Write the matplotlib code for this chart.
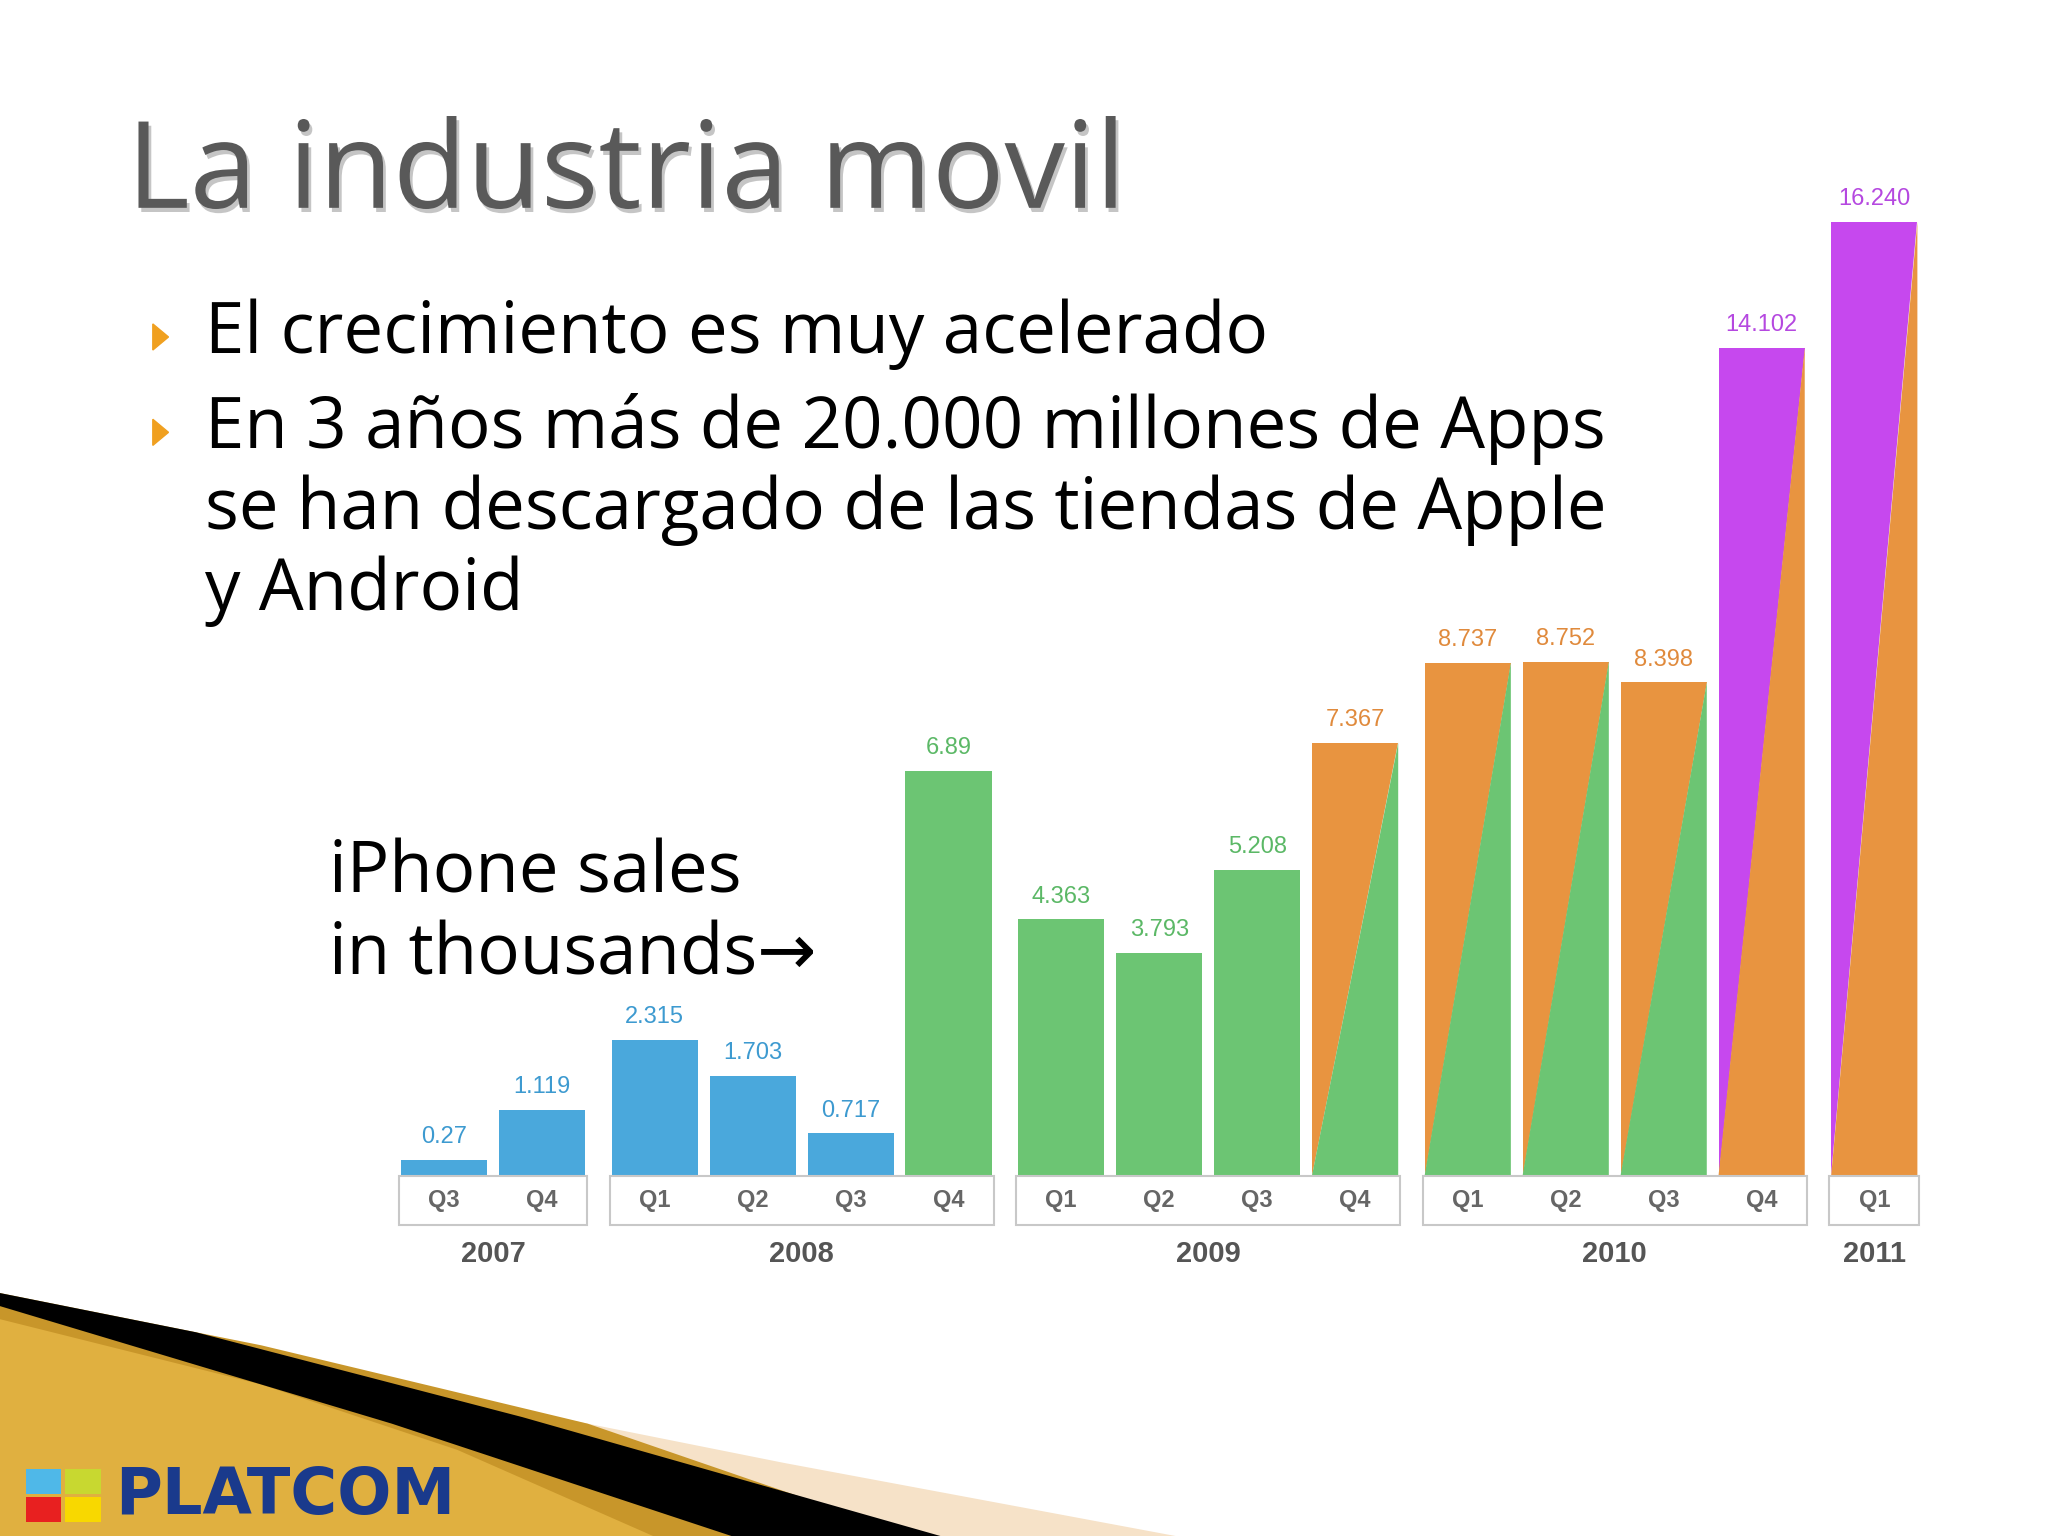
import matplotlib
matplotlib.use("Agg")
import matplotlib.pyplot as plt
from matplotlib.patches import Polygon, Rectangle
import matplotlib.patheffects as pe

# data
years = ["2007", "2008", "2009", "2010", "2011"]
quarters = [["Q3", "Q4"], ["Q1", "Q2", "Q3", "Q4"], ["Q1", "Q2", "Q3", "Q4"],
            ["Q1", "Q2", "Q3", "Q4"], ["Q1"]]
sales = [0.27, 1.119, 2.315, 1.703, 0.717, 6.89, 4.363, 3.793, 5.208,
         7.367, 8.737, 8.752, 8.398, 14.102, 16.240]
value_labels = ["0.27", "1.119", "2.315", "1.703", "0.717", "6.89", "4.363",
                "3.793", "5.208", "7.367", "8.737", "8.752", "8.398",
                "14.102", "16.240"]
# top-left colour / bottom-right colour of each bar
kinds = ["b", "b", "b", "b", "b", "g", "g", "g", "g",
         "og", "og", "og", "og", "po", "po"]

BLUE, GREEN, ORANGE, PURPLE = "#4aa8dc", "#6cc573", "#e89440", "#c648ee"
cmap = {"b": (BLUE, BLUE), "g": (GREEN, GREEN), "og": (ORANGE, GREEN), "po": (PURPLE, ORANGE)}
label_col = {"b": "#3d9ad0", "g": "#5bb866", "og": "#e08a3c", "po": "#b548e0"}

W, H = 1568, 1176
fx = lambda x: x / W
fy = lambda y: 1 - y / H

fig = plt.figure(figsize=(20.48, 15.36), dpi=100)
fig.patch.set_facecolor("white")
plt.rcParams["font.family"] = ["Liberation Sans", "DejaVu Sans"]

# bar positions (group gap)
pos = []
x = 0.0
for g, qs in enumerate(quarters):
    for q in qs:
        pos.append(x)
        x += 1
    x += 0.15
x0, x1 = 300, 1475
half = 40 / 75
ax = fig.add_axes([fx(x0), fy(900), fx(x1) - fx(x0), fy(150) - fy(900)])
ax.set_xlim(pos[0] - half, pos[-1] + half)
ax.set_ylim(0, 750 / 44.95)
ax.axis("off")

bw = 0.88
for p, v, k, lab in zip(pos, sales, kinds, value_labels):
    c1, c2 = cmap[k]
    l, r = p - bw / 2, p + bw / 2
    if c1 == c2:
        ax.add_patch(Rectangle((l, 0), bw, v, color=c1, lw=0))
    else:
        ax.add_patch(Polygon([(l, 0), (l, v), (r, v)], closed=True, color=c1, lw=0))
        ax.add_patch(Polygon([(l, 0), (r, v), (r, 0)], closed=True, color=c2, lw=0))
    ax.text(p, v + 0.2, lab, ha="center", va="bottom", fontsize=17, color=label_col[k])

# category boxes
box_h = 38 / 44.95
i = 0
for g, qs in enumerate(quarters):
    gp = pos[i:i + len(qs)]
    l, r = gp[0] - bw / 2 - 0.02, gp[-1] + bw / 2 + 0.02
    ax.add_patch(Rectangle((l, -box_h), r - l, box_h, facecolor="white",
                           edgecolor="#c8c8c8", lw=1.5, clip_on=False))
    for p, q in zip(gp, qs):
        ax.text(p, -box_h / 2, q, ha="center", va="center", fontsize=17,
                color="#666666", fontweight="bold")
    ax.text((l + r) / 2, -box_h - 0.5, years[g], ha="center", va="center",
            fontsize=21, color="#555555", fontweight="bold")
    i += len(qs)

# title and bullets
fig.text(fx(97), fy(135), "La industria movil", fontsize=87, color="#595959",
         va="center", family=["Open Sans", "DejaVu Sans"],
         path_effects=[pe.withSimplePatchShadow(offset=(2, -3), alpha=0.25)])
bt = dict(fontsize=51, color="black", family=["Open Sans", "DejaVu Sans"], va="baseline")
for yy in (270, 343):
    fig.patches.append(Polygon([(fx(117), fy(yy - 22)), (fx(117), fy(yy - 2)),
                                (fx(129), fy(yy - 12))], closed=True,
                               color="#f0a020", transform=fig.transFigure))
fig.text(fx(157), fy(270), "El crecimiento es muy acelerado", **bt)
fig.text(fx(157), fy(343), "En 3 años más de 20.000 millones de Apps", **bt)
fig.text(fx(157), fy(405), "se han descargado de las tiendas de Apple", **bt)
fig.text(fx(157), fy(467), "y Android", **bt)
fig.text(fx(252), fy(683), "iPhone sales", **bt)
fig.text(fx(252), fy(746), "in thousands\u2192", **bt)

# bottom-left decoration
def poly(pts, **kw):
    fig.patches.append(Polygon([(fx(a), fy(b)) for a, b in pts], closed=True,
                               transform=fig.transFigure, lw=0, **kw))
poly([(0, 1020), (250, 1050), (600, 1120), (900, 1176), (0, 1176)], color="#f6e2c8")
poly([(0, 990), (200, 1030), (450, 1090), (700, 1176), (0, 1176)], color="#c8962a")
poly([(0, 1010), (200, 1060), (350, 1110), (500, 1176), (0, 1176)], color="#e0b040")
poly([(0, 990), (150, 1020), (400, 1085), (720, 1176), (560, 1176), (300, 1090), (100, 1030), (0, 1000)], color="black")
for (a, b, c) in [(20, 1125, "#4fb8e8"), (50, 1125, "#c8d830"), (20, 1146, "#e82020"), (50, 1146, "#f8d800")]:
    poly([(a, b), (a + 27, b), (a + 27, b + 19), (a, b + 19)], color=c)
fig.text(fx(88), fy(1145), "PLATCOM", fontsize=46, fontweight="bold", color="#1a3a8c",
         va="center", family=["DejaVu Sans"])

fig.savefig("out.png", dpi=100)
